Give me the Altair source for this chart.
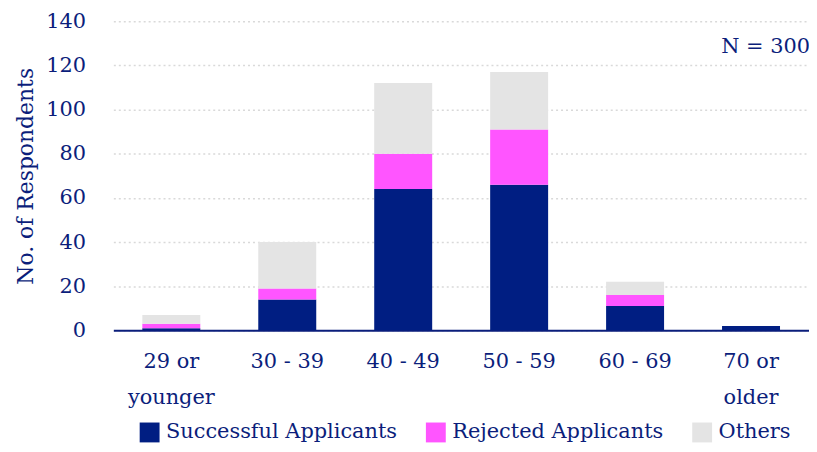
import altair as alt
import pandas as pd

categories = ["29 or younger", "30 - 39", "40 - 49", "50 - 59", "60 - 69", "70 or older"]
successful = [1, 14, 64, 66, 11, 2]
rejected = [2, 5, 16, 25, 5, 0]
others = [4, 21, 32, 26, 6, 0]
series = ["Successful Applicants", "Rejected Applicants", "Others"]
colors = ["#001e82", "#ff55ff", "#e4e4e4"]

rows = []
for i, c in enumerate(categories):
    for k, (s, vals) in enumerate(zip(series, [successful, rejected, others])):
        rows.append({"age": c, "series": s, "value": vals[i], "order": k})
df = pd.DataFrame(rows)

NAVY = "#0b1e7b"
FONT = "DejaVu Serif"

bars = alt.Chart(df).mark_bar(stroke=None).encode(
    x=alt.X("age:N", sort=categories, title=None,
            scale=alt.Scale(paddingInner=0.5, paddingOuter=0.25),
            axis=alt.Axis(labelAngle=0, labelFontSize=21, labelColor=NAVY, labelFont=FONT,
                          labelPadding=20, labelLineHeight=37, ticks=False, labelLimit=0,
                          domainColor=NAVY, domainWidth=2,
                          labelExpr="datum.label == '29 or younger' ? ['29 or', 'younger'] : datum.label == '70 or older' ? ['70 or', 'older'] : datum.label")),
    y=alt.Y("value:Q", stack="zero", title="No. of Respondents",
            scale=alt.Scale(domain=[0, 140]),
            axis=alt.Axis(values=[0, 20, 40, 60, 80, 100, 120, 140], labelFontSize=21,
                          labelColor=NAVY, labelFont=FONT, labelPadding=28, ticks=False,
                          domain=False, gridColor="#d9d9d9", gridDash=[2, 3], gridWidth=1.5,
                          titleFont=FONT, titleFontSize=22, titleColor=NAVY,
                          titleFontWeight="normal", titlePadding=8)),
    color=alt.Color("series:N", sort=series,
                    scale=alt.Scale(domain=series, range=colors),
                    legend=alt.Legend(title=None, orient="none", direction="horizontal",
                                      legendX=26, legendY=403, symbolType="square",
                                      symbolSize=400, symbolStrokeWidth=0, labelLimit=0,
                                      labelFont=FONT, labelFontSize=21, labelColor=NAVY,
                                      columnPadding=28, labelOffset=6)),
    order=alt.Order("order:Q"),
)

note = alt.Chart(pd.DataFrame({"t": ["N = 300"]})).mark_text(
    font=FONT, fontSize=21, color=NAVY, align="right", baseline="middle"
).encode(x=alt.value(701), y=alt.value(26), text="t:N")

chart = alt.layer(bars, note).properties(
    width=700, height=311,
    autosize=alt.AutoSizeParams(type="none"),
    padding={"left": 106, "top": 12, "right": 0, "bottom": 113},
).configure_view(stroke=None)

chart.save("out.html", embed_options={"renderer": "svg", "actions": False})
